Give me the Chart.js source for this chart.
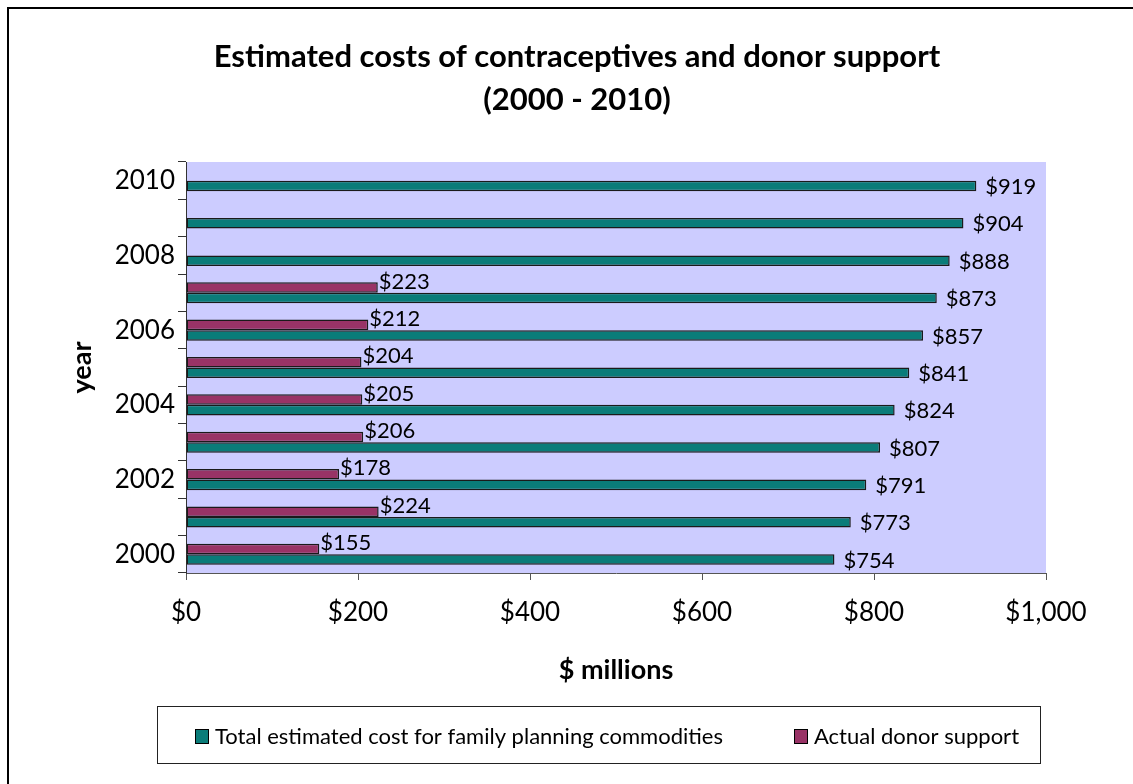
<!DOCTYPE html>
<html>
<head>
<meta charset="utf-8">
<title>Estimated costs of contraceptives and donor support</title>
<script src="https://cdn.jsdelivr.net/npm/chart.js@4.4.0/dist/chart.umd.min.js"></script>
<style>
  html, body { margin: 0; padding: 0; background: #fff; }
  #wrap { width: 1133px; height: 784px; }
</style>
</head>
<body>
<div id="wrap"><canvas id="costChart" width="1133" height="784"></canvas></div>
<script>
const years = ['2000', '2001', '2002', '2003', '2004', '2005', '2006', '2007', '2008', '2009', '2010'];
const totalCost = [754, 773, 791, 807, 824, 841, 857, 873, 888, 904, 919];
const donorSupport = [155, 224, 178, 206, 205, 204, 212, 223, null, null, null];
const xTicks = [0, 200, 400, 600, 800, 1000];

const titleLines = ['Estimated costs of contraceptives and donor support', '(2000 - 2010)'];
const FONT = 'Lato, "Open Sans", sans-serif';

Chart.defaults.font.family = FONT;
Chart.defaults.color = '#000';

const money = (v) => '$' + Number(v).toLocaleString('en-US');

// white page, lavender plot area, frame on the left and top edges
const backdrop = {
    id: 'backdrop',
    beforeDraw(chart) {
        const { ctx, chartArea: a, width, height } = chart;
        ctx.save();
        ctx.fillStyle = '#fff';
        ctx.fillRect(0, 0, width, height);
        ctx.fillStyle = '#CCCCFF';
        ctx.fillRect(a.left, a.top, a.right - a.left, a.bottom - a.top);
        ctx.strokeStyle = '#000';
        ctx.lineWidth = 2;
        ctx.strokeRect(8, 8, width + 20, height + 20);
        ctx.restore();
    }
};

// "$123" next to the end of every bar
const barValues = {
    id: 'barValues',
    afterDatasetsDraw(chart) {
        const { ctx } = chart;
        ctx.save();
        ctx.font = '22px ' + FONT;
        ctx.fillStyle = '#000';
        ctx.textAlign = 'left';
        ctx.textBaseline = 'middle';
        chart.data.datasets.forEach((ds, i) => {
            const meta = chart.getDatasetMeta(i);
            meta.data.forEach((bar, j) => {
                const v = ds.data[j];
                if (v === null || v === undefined) return;
                const dx = ds.labelShift[0], dy = ds.labelShift[1];
                ctx.fillText(money(v), bar.x + dx, bar.y + dy);
            });
        });
        ctx.restore();
    }
};

// two-line heading and the framed legend underneath
const headingAndLegend = {
    id: 'headingAndLegend',
    afterDraw(chart) {
        const { ctx } = chart;
        ctx.save();
        ctx.fillStyle = '#000';
        ctx.textAlign = 'center';
        ctx.textBaseline = 'middle';
        ctx.font = 'bold 31px ' + FONT;
        ctx.fillText(titleLines[0], 577, 57);
        ctx.fillText(titleLines[1], 577, 100);

        // legend frame
        ctx.strokeStyle = '#222';
        ctx.lineWidth = 1;
        ctx.strokeRect(157.5, 706.5, 883, 57);

        const order = ['total', 'donor'];
        const itemX = [195, 794];
        ctx.font = '22px ' + FONT;
        ctx.textAlign = 'left';
        order.forEach((key, k) => {
            const ds = chart.data.datasets.find(d => d.key === key);
            ctx.fillStyle = ds.backgroundColor;
            ctx.fillRect(itemX[k], 729, 13, 14);
            ctx.strokeStyle = '#000';
            ctx.strokeRect(itemX[k] + 0.5, 729.5, 13, 14);
            ctx.fillStyle = '#000';
            ctx.fillText(ds.label, itemX[k] + 20, 737);
        });
        ctx.restore();
    }
};

const ctx = document.getElementById('costChart').getContext('2d');
new Chart(ctx, {
    type: 'bar',
    data: {
        labels: years,
        datasets: [
            {
                key: 'donor',
                label: 'Actual donor support',
                data: donorSupport,
                backgroundColor: '#993366',
                borderColor: '#1a1a1a',
                borderWidth: 1.5,
                borderSkipped: false,
                labelShift: [1, -6]
            },
            {
                key: 'total',
                label: 'Total estimated cost for family planning commodities',
                data: totalCost,
                backgroundColor: '#0A7C79',
                borderColor: '#1a1a1a',
                borderWidth: 1.5,
                borderSkipped: false,
                labelShift: [9, 1]
            }
        ]
    },
    options: {
        indexAxis: 'y',
        responsive: false,
        animation: false,
        devicePixelRatio: 1,
        categoryPercentage: 0.565,
        barPercentage: 1,
        layout: { padding: { top: 162, right: 87, bottom: 0, left: 0 } },
        plugins: {
            legend: { display: false },
            title: { display: false },
            tooltip: { enabled: false }
        },
        scales: {
            x: {
                min: 0,
                max: 1000,
                afterBuildTicks: (scale) => { scale.ticks = xTicks.map(v => ({ value: v })); },
                afterFit: (scale) => { scale.height = 211; },
                ticks: {
                    font: { size: 26 },
                    padding: 17,
                    callback: (v) => money(v)
                },
                grid: { drawOnChartArea: false, tickLength: 7, color: '#555' },
                border: { color: '#555', width: 1 },
                title: {
                    display: true,
                    text: '$ millions',
                    font: { size: 27, weight: 'bold' },
                    padding: { top: 0, bottom: 98 }
                }
            },
            y: {
                reverse: true,
                afterFit: (scale) => { scale.width = 186; },
                ticks: {
                    autoSkip: false,
                    font: { size: 26 },
                    padding: 3,
                    callback: (v) => (Number(years[v]) % 2 === 0 ? years[v] : '')
                },
                grid: { offset: true, drawOnChartArea: false, tickLength: 8, color: '#333' },
                border: { color: '#333', width: 1 },
                title: {
                    display: true,
                    text: 'year',
                    font: { size: 27, weight: 'bold' },
                    padding: { top: 66, bottom: 0 }
                }
            }
        }
    },
    plugins: [backdrop, barValues, headingAndLegend]
});
</script>
</body>
</html>
